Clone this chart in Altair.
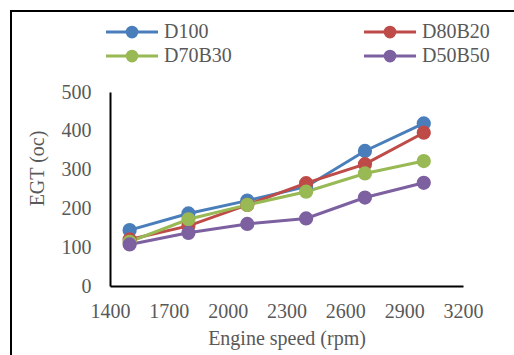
import altair as alt
import pandas as pd

speeds = [1500, 1800, 2100, 2400, 2700, 3000]
series_names = ["D100", "D80B20", "D70B30", "D50B50"]
d100 = [144, 187, 220, 256, 348, 419]
d80b20 = [120, 155, 209, 265, 314, 395]
d70b30 = [114, 172, 209, 243, 290, 322]
d50b50 = [107, 137, 160, 174, 228, 266]
colors = ["#4A7EBB", "#BE4B48", "#98B954", "#7D60A0"]
x_ticks = [1400, 1700, 2000, 2300, 2600, 2900, 3200]
y_ticks = [0, 100, 200, 300, 400, 500]
legend_order = ["D100", "D70B30", "D80B20", "D50B50"]

rows = []
for i, (name, vals) in enumerate(zip(series_names, [d100, d80b20, d70b30, d50b50])):
    for s, v in zip(speeds, vals):
        rows.append({"speed": s, "egt": v, "series": name, "idx": i})
df = pd.DataFrame(rows)

FONT = "Liberation Serif"
TXT = "#595959"

x_enc = alt.X("speed:Q", scale=alt.Scale(domain=[1400, 3200], nice=False),
              axis=alt.Axis(values=x_ticks, title="Engine speed (rpm)", format="d",
                            labelOverlap=False, labelFlush=False, labelPadding=15,
                            titlePadding=7, labelFont=FONT, titleFont=FONT))
y_enc = alt.Y("egt:Q", scale=alt.Scale(domain=[0, 500], nice=False),
              axis=alt.Axis(values=y_ticks, title="EGT (oc)", titleX=-73, titleY=76,
                            titleAngle=-90, titleBaseline="middle", titleAlign="center",
                            labelFlush=False, labelPadding=19, labelFont=FONT, titleFont=FONT))

color_scale = alt.Scale(domain=series_names, range=colors)

legend = alt.Legend(
    title=None, orient="none", legendX=12, legendY=-70, columns=2,
    values=legend_order,
    symbolType="M-4,0L4,0M0.75,0A0.75,0.75,0,1,1,-0.75,0A0.75,0.75,0,1,1,0.75,0Z",
    symbolSize=169, symbolStrokeWidth=3, labelOffset=22,
    columnPadding=126, rowPadding=2,
    labelFont=FONT, labelFontSize=20, labelColor=TXT,
)

lines = alt.Chart(df).mark_line(strokeWidth=3).encode(
    x=x_enc, y=y_enc,
    stroke=alt.Stroke("series:N", scale=color_scale, legend=legend, sort=series_names),
    order=alt.Order("speed:Q"),
)

points = alt.Chart(df).mark_point(filled=True, size=150, opacity=1).encode(
    x=x_enc, y=y_enc,
    fill=alt.Fill("series:N", scale=color_scale, legend=legend, sort=series_names),
    stroke=alt.Stroke("series:N", scale=color_scale, legend=legend, sort=series_names),
    order=alt.Order("idx:Q"),
)

border = alt.Chart(pd.DataFrame({"a": [0]})).mark_rect(
    fill=None, stroke="black", strokeWidth=2, clip=False
).encode(
    x=alt.value(-99), x2=alt.value(420), y=alt.value(-81), y2=alt.value(280)
)

chart = alt.layer(border, lines, points).properties(
    width=353, height=194,
    autosize=alt.AutoSizeParams(type="none"),
    padding={"left": 110, "top": 92, "right": 51, "bottom": 69},
).configure(font=FONT).configure_view(stroke=None).configure_axis(
    grid=False, ticks=False, domainColor="black", domainWidth=2,
    labelFont=FONT, labelFontSize=20, labelColor=TXT,
    titleFont=FONT, titleFontSize=20, titleColor=TXT, titleFontWeight="normal",
).configure_legend(labelFont=FONT)

chart.save("out.html", embed_options={"renderer": "svg", "actions": False})
